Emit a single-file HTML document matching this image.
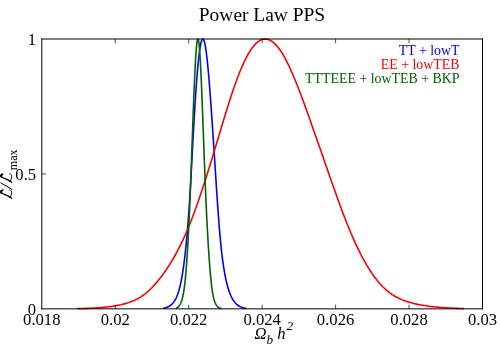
<!DOCTYPE html>
<html><head><meta charset="utf-8">
<style>
html,body{margin:0;padding:0;background:#fff;}
svg{display:block;will-change:transform;}
text{font-family:"Liberation Serif",serif;fill:#000;}
</style></head>
<body>
<svg width="500" height="350" viewBox="0 0 500 350">
<rect width="500" height="350" fill="#fff"/>
<g fill="none" stroke-width="1.6" stroke-linejoin="round" stroke-linecap="butt">
<path d="M163.03,308.24 L163.37,308.18 L163.72,308.12 L164.06,308.05 L164.42,307.98 L164.77,307.90 L165.12,307.81 L165.48,307.71 L165.84,307.61 L166.20,307.50 L166.57,307.38 L166.93,307.25 L167.29,307.11 L167.66,306.96 L168.03,306.80 L168.40,306.62 L168.76,306.44 L169.13,306.23 L169.50,306.02 L169.87,305.78 L170.24,305.53 L170.60,305.27 L170.97,304.98 L171.34,304.68 L171.70,304.35 L172.06,304.00 L172.43,303.63 L172.79,303.23 L173.15,302.80 L173.51,302.35 L173.87,301.87 L174.22,301.36 L174.58,300.82 L174.93,300.24 L175.28,299.63 L175.63,298.99 L175.98,298.30 L176.33,297.57 L176.67,296.81 L177.01,296.00 L177.35,295.14 L177.69,294.24 L178.02,293.29 L178.36,292.29 L178.69,291.23 L179.01,290.13 L179.34,288.96 L179.66,287.74 L179.98,286.46 L180.30,285.12 L180.62,283.71 L180.93,282.24 L181.24,280.70 L181.55,279.10 L181.86,277.42 L182.16,275.68 L182.47,273.86 L182.77,271.96 L183.07,269.99 L183.37,267.95 L183.67,265.82 L183.96,263.62 L184.26,261.33 L184.55,258.97 L184.84,256.52 L185.13,253.99 L185.42,251.38 L185.71,248.69 L186.00,245.91 L186.28,243.05 L186.56,240.10 L186.84,237.08 L187.12,233.97 L187.39,230.78 L187.66,227.52 L187.93,224.17 L188.20,220.75 L188.46,217.25 L188.72,213.68 L188.97,210.04 L189.23,206.33 L189.48,202.55 L189.72,198.71 L189.96,194.81 L190.20,190.85 L190.44,186.84 L190.67,182.79 L190.90,178.68 L191.13,174.53 L191.36,170.35 L191.59,166.14 L191.81,161.90 L192.04,157.63 L192.27,153.35 L192.49,149.06 L192.72,144.77 L192.95,140.47 L193.18,136.18 L193.42,131.91 L193.65,127.65 L193.89,123.42 L194.13,119.22 L194.37,115.06 L194.62,110.94 L194.87,106.88 L195.12,102.88 L195.38,98.93 L195.63,95.07 L195.89,91.28 L196.16,87.57 L196.42,83.96 L196.69,80.45 L196.96,77.04 L197.23,73.74 L197.50,70.56 L197.77,67.50 L198.04,64.57 L198.32,61.78 L198.60,59.13 L198.87,56.62 L199.15,54.26 L199.43,52.06 L199.71,50.02 L199.99,48.14 L200.27,46.43 L200.55,44.89 L200.83,43.52 L201.11,42.33 L201.39,41.31 L201.67,40.48 L201.95,39.84 L202.24,39.37 L202.52,39.09 L202.80,39.00 L203.09,39.09 L203.37,39.37 L203.66,39.84 L203.94,40.48 L204.23,41.31 L204.52,42.33 L204.80,43.52 L205.09,44.89 L205.38,46.43 L205.66,48.14 L205.95,50.02 L206.23,52.06 L206.52,54.26 L206.81,56.62 L207.09,59.13 L207.38,61.78 L207.66,64.57 L207.95,67.50 L208.24,70.56 L208.52,73.74 L208.81,77.04 L209.09,80.45 L209.38,83.96 L209.67,87.57 L209.95,91.28 L210.24,95.07 L210.52,98.93 L210.81,102.88 L211.10,106.88 L211.38,110.94 L211.67,115.06 L211.95,119.22 L212.24,123.42 L212.52,127.65 L212.81,131.91 L213.09,136.18 L213.37,140.47 L213.65,144.77 L213.94,149.06 L214.22,153.35 L214.49,157.63 L214.77,161.90 L215.05,166.14 L215.32,170.35 L215.60,174.53 L215.87,178.68 L216.14,182.79 L216.41,186.84 L216.67,190.85 L216.94,194.81 L217.20,198.71 L217.47,202.55 L217.73,206.33 L217.99,210.04 L218.26,213.68 L218.52,217.25 L218.78,220.75 L219.05,224.17 L219.32,227.52 L219.59,230.78 L219.86,233.97 L220.14,237.08 L220.42,240.10 L220.70,243.05 L220.99,245.91 L221.28,248.69 L221.58,251.38 L221.88,253.99 L222.18,256.52 L222.49,258.97 L222.81,261.33 L223.13,263.62 L223.45,265.82 L223.78,267.95 L224.11,269.99 L224.45,271.96 L224.79,273.86 L225.13,275.68 L225.48,277.42 L225.83,279.10 L226.18,280.70 L226.54,282.24 L226.90,283.71 L227.27,285.12 L227.63,286.46 L228.00,287.74 L228.37,288.96 L228.74,290.13 L229.12,291.23 L229.49,292.29 L229.87,293.29 L230.25,294.24 L230.62,295.14 L231.00,296.00 L231.38,296.81 L231.77,297.57 L232.15,298.30 L232.53,298.99 L232.91,299.63 L233.29,300.24 L233.68,300.82 L234.06,301.36 L234.44,301.87 L234.83,302.35 L235.21,302.80 L235.59,303.23 L235.98,303.63 L236.36,304.00 L236.74,304.35 L237.12,304.68 L237.50,304.98 L237.87,305.27 L238.25,305.53 L238.62,305.78 L238.99,306.02 L239.36,306.23 L239.73,306.44 L240.09,306.62 L240.46,306.80 L240.81,306.96 L241.17,307.11 L241.52,307.25 L241.87,307.38 L242.22,307.50 L242.57,307.61 L242.92,307.71 L243.26,307.81 L243.60,307.90 L243.94,307.98 L244.28,308.05 L244.62,308.12 L244.96,308.18 L245.30,308.24 L245.64,308.29 L245.97,308.34 L246.31,308.39" stroke="#0000ff"/>
<path d="M77.12,308.61 L78.42,308.59 L79.72,308.56 L81.01,308.53 L82.31,308.50 L83.61,308.47 L84.90,308.43 L86.20,308.39 L87.50,308.34 L88.80,308.29 L90.10,308.24 L91.40,308.18 L92.70,308.12 L94.00,308.05 L95.31,307.98 L96.62,307.90 L97.93,307.81 L99.24,307.71 L100.56,307.61 L101.89,307.50 L103.21,307.38 L104.55,307.25 L105.89,307.11 L107.24,306.96 L108.59,306.80 L109.96,306.62 L111.33,306.44 L112.71,306.23 L114.09,306.02 L115.48,305.78 L116.88,305.53 L118.27,305.27 L119.67,304.98 L121.08,304.68 L122.47,304.35 L123.87,304.00 L125.26,303.63 L126.64,303.23 L128.01,302.80 L129.38,302.35 L130.72,301.87 L132.06,301.36 L133.38,300.82 L134.68,300.24 L135.96,299.63 L137.23,298.99 L138.49,298.30 L139.73,297.57 L140.96,296.81 L142.17,296.00 L143.38,295.14 L144.58,294.24 L145.78,293.29 L146.98,292.29 L148.18,291.23 L149.38,290.13 L150.58,288.96 L151.80,287.74 L153.02,286.46 L154.26,285.12 L155.51,283.71 L156.78,282.24 L158.06,280.70 L159.35,279.10 L160.67,277.42 L161.99,275.68 L163.33,273.86 L164.69,271.96 L166.06,269.99 L167.43,267.95 L168.82,265.82 L170.21,263.62 L171.61,261.33 L173.02,258.97 L174.42,256.52 L175.83,253.99 L177.24,251.38 L178.64,248.69 L180.04,245.91 L181.44,243.05 L182.84,240.10 L184.22,237.08 L185.61,233.97 L186.99,230.78 L188.36,227.52 L189.72,224.17 L191.08,220.75 L192.44,217.25 L193.79,213.68 L195.14,210.04 L196.48,206.33 L197.81,202.55 L199.15,198.71 L200.48,194.81 L201.80,190.85 L203.13,186.84 L204.45,182.79 L205.77,178.68 L207.08,174.53 L208.39,170.35 L209.70,166.14 L211.00,161.90 L212.30,157.63 L213.60,153.35 L214.89,149.06 L216.18,144.77 L217.47,140.47 L218.75,136.18 L220.03,131.91 L221.31,127.65 L222.58,123.42 L223.85,119.22 L225.12,115.06 L226.39,110.94 L227.66,106.88 L228.93,102.88 L230.19,98.93 L231.46,95.07 L232.73,91.28 L234.00,87.57 L235.27,83.96 L236.55,80.45 L237.82,77.04 L239.10,73.74 L240.38,70.56 L241.66,67.50 L242.95,64.57 L244.23,61.78 L245.52,59.13 L246.81,56.62 L248.11,54.26 L249.40,52.06 L250.70,50.02 L251.99,48.14 L253.29,46.43 L254.59,44.89 L255.89,43.52 L257.19,42.33 L258.49,41.31 L259.79,40.48 L261.09,39.84 L262.40,39.37 L263.70,39.09 L265.00,39.00 L266.37,39.09 L267.73,39.37 L269.10,39.84 L270.47,40.48 L271.84,41.31 L273.20,42.33 L274.57,43.52 L275.94,44.89 L277.31,46.43 L278.68,48.14 L280.06,50.02 L281.43,52.06 L282.80,54.26 L284.18,56.62 L285.56,59.13 L286.94,61.78 L288.32,64.57 L289.71,67.50 L291.10,70.56 L292.50,73.74 L293.90,77.04 L295.31,80.45 L296.72,83.96 L298.14,87.57 L299.56,91.28 L301.00,95.07 L302.44,98.93 L303.89,102.88 L305.35,106.88 L306.82,110.94 L308.29,115.06 L309.78,119.22 L311.26,123.42 L312.75,127.65 L314.25,131.91 L315.75,136.18 L317.24,140.47 L318.74,144.77 L320.24,149.06 L321.73,153.35 L323.22,157.63 L324.70,161.90 L326.17,166.14 L327.64,170.35 L329.10,174.53 L330.54,178.68 L331.98,182.79 L333.42,186.84 L334.84,190.85 L336.25,194.81 L337.65,198.71 L339.05,202.55 L340.43,206.33 L341.81,210.04 L343.19,213.68 L344.55,217.25 L345.92,220.75 L347.27,224.17 L348.62,227.52 L349.97,230.78 L351.32,233.97 L352.66,237.08 L353.99,240.10 L355.33,243.05 L356.66,245.91 L357.99,248.69 L359.31,251.38 L360.63,253.99 L361.95,256.52 L363.26,258.97 L364.57,261.33 L365.87,263.62 L367.17,265.82 L368.47,267.95 L369.76,269.99 L371.05,271.96 L372.33,273.86 L373.61,275.68 L374.89,277.42 L376.17,279.10 L377.44,280.70 L378.72,282.24 L379.99,283.71 L381.27,285.12 L382.56,286.46 L383.85,287.74 L385.14,288.96 L386.44,290.13 L387.76,291.23 L389.08,292.29 L390.42,293.29 L391.77,294.24 L393.14,295.14 L394.53,296.00 L395.94,296.81 L397.37,297.57 L398.82,298.30 L400.28,298.99 L401.77,299.63 L403.29,300.24 L404.82,300.82 L406.37,301.36 L407.94,301.87 L409.53,302.35 L411.13,302.80 L412.74,303.23 L414.36,303.63 L415.99,304.00 L417.63,304.35 L419.26,304.68 L420.89,304.98 L422.52,305.27 L424.14,305.53 L425.75,305.78 L427.35,306.02 L428.94,306.23 L430.51,306.44 L432.07,306.62 L433.62,306.80 L435.16,306.96 L436.68,307.11 L438.19,307.25 L439.68,307.38 L441.17,307.50 L442.65,307.61 L444.11,307.71 L445.57,307.81 L447.02,307.90 L448.47,307.98 L449.91,308.05 L451.34,308.12 L452.78,308.18 L454.21,308.24 L455.64,308.29 L457.06,308.34 L458.49,308.39 L459.91,308.43 L461.34,308.47 L462.76,308.50 L464.18,308.53" stroke="#ff0000"/>
<path d="M176.01,308.18 L176.18,308.12 L176.36,308.05 L176.53,307.98 L176.71,307.90 L176.89,307.81 L177.06,307.71 L177.24,307.61 L177.41,307.50 L177.59,307.38 L177.77,307.25 L177.94,307.11 L178.12,306.96 L178.30,306.80 L178.48,306.62 L178.65,306.44 L178.83,306.23 L179.01,306.02 L179.20,305.78 L179.38,305.53 L179.56,305.27 L179.74,304.98 L179.93,304.68 L180.12,304.35 L180.30,304.00 L180.49,303.63 L180.68,303.23 L180.87,302.80 L181.05,302.35 L181.24,301.87 L181.43,301.36 L181.62,300.82 L181.81,300.24 L181.99,299.63 L182.18,298.99 L182.36,298.30 L182.54,297.57 L182.72,296.81 L182.90,296.00 L183.08,295.14 L183.26,294.24 L183.43,293.29 L183.61,292.29 L183.78,291.23 L183.95,290.13 L184.12,288.96 L184.29,287.74 L184.46,286.46 L184.63,285.12 L184.79,283.71 L184.96,282.24 L185.13,280.70 L185.29,279.10 L185.46,277.42 L185.62,275.68 L185.79,273.86 L185.95,271.96 L186.11,269.99 L186.28,267.95 L186.44,265.82 L186.60,263.62 L186.77,261.33 L186.93,258.97 L187.09,256.52 L187.26,253.99 L187.42,251.38 L187.58,248.69 L187.75,245.91 L187.91,243.05 L188.07,240.10 L188.24,237.08 L188.40,233.97 L188.56,230.78 L188.73,227.52 L188.89,224.17 L189.05,220.75 L189.21,217.25 L189.37,213.68 L189.54,210.04 L189.70,206.33 L189.86,202.55 L190.02,198.71 L190.18,194.81 L190.34,190.85 L190.50,186.84 L190.65,182.79 L190.81,178.68 L190.97,174.53 L191.13,170.35 L191.28,166.14 L191.44,161.90 L191.59,157.63 L191.75,153.35 L191.91,149.06 L192.06,144.77 L192.21,140.47 L192.37,136.18 L192.52,131.91 L192.68,127.65 L192.83,123.42 L192.99,119.22 L193.14,115.06 L193.29,110.94 L193.45,106.88 L193.60,102.88 L193.75,98.93 L193.91,95.07 L194.06,91.28 L194.21,87.57 L194.37,83.96 L194.52,80.45 L194.68,77.04 L194.83,73.74 L194.98,70.56 L195.14,67.50 L195.29,64.57 L195.44,61.78 L195.60,59.13 L195.75,56.62 L195.90,54.26 L196.06,52.06 L196.21,50.02 L196.36,48.14 L196.52,46.43 L196.67,44.89 L196.83,43.52 L196.98,42.33 L197.13,41.31 L197.29,40.48 L197.44,39.84 L197.59,39.37 L197.75,39.09 L197.90,39.00 L198.05,39.09 L198.21,39.37 L198.36,39.84 L198.51,40.48 L198.67,41.31 L198.82,42.33 L198.97,43.52 L199.13,44.89 L199.28,46.43 L199.44,48.14 L199.59,50.02 L199.74,52.06 L199.90,54.26 L200.05,56.62 L200.20,59.13 L200.36,61.78 L200.51,64.57 L200.66,67.50 L200.82,70.56 L200.97,73.74 L201.12,77.04 L201.28,80.45 L201.43,83.96 L201.59,87.57 L201.74,91.28 L201.89,95.07 L202.05,98.93 L202.20,102.88 L202.35,106.88 L202.51,110.94 L202.66,115.06 L202.82,119.22 L202.97,123.42 L203.13,127.65 L203.28,131.91 L203.44,136.18 L203.59,140.47 L203.75,144.77 L203.91,149.06 L204.06,153.35 L204.22,157.63 L204.38,161.90 L204.55,166.14 L204.71,170.35 L204.87,174.53 L205.04,178.68 L205.20,182.79 L205.37,186.84 L205.54,190.85 L205.71,194.81 L205.88,198.71 L206.05,202.55 L206.23,206.33 L206.40,210.04 L206.58,213.68 L206.75,217.25 L206.93,220.75 L207.11,224.17 L207.28,227.52 L207.46,230.78 L207.63,233.97 L207.81,237.08 L207.99,240.10 L208.16,243.05 L208.33,245.91 L208.51,248.69 L208.68,251.38 L208.85,253.99 L209.02,256.52 L209.19,258.97 L209.36,261.33 L209.53,263.62 L209.70,265.82 L209.87,267.95 L210.03,269.99 L210.20,271.96 L210.37,273.86 L210.53,275.68 L210.70,277.42 L210.86,279.10 L211.03,280.70 L211.19,282.24 L211.36,283.71 L211.53,285.12 L211.69,286.46 L211.86,287.74 L212.03,288.96 L212.19,290.13 L212.36,291.23 L212.53,292.29 L212.70,293.29 L212.87,294.24 L213.04,295.14 L213.21,296.00 L213.38,296.81 L213.56,297.57 L213.73,298.30 L213.91,298.99 L214.08,299.63 L214.26,300.24 L214.44,300.82 L214.62,301.36 L214.80,301.87 L214.98,302.35 L215.17,302.80 L215.35,303.23 L215.54,303.63 L215.72,304.00 L215.91,304.35 L216.09,304.68 L216.28,304.98 L216.46,305.27 L216.65,305.53 L216.83,305.78 L217.02,306.02 L217.20,306.23 L217.39,306.44 L217.57,306.62 L217.75,306.80 L217.94,306.96 L218.12,307.11 L218.30,307.25 L218.48,307.38 L218.66,307.50 L218.84,307.61 L219.02,307.71 L219.20,307.81 L219.38,307.90 L219.56,307.98 L219.74,308.05 L219.92,308.12 L220.10,308.18 L220.28,308.24 L220.46,308.29 L220.64,308.34 L220.82,308.39 L221.00,308.43 L221.18,308.47 L221.37,308.50" stroke="#006400"/>
</g>
<g stroke="#000" stroke-width="1" fill="none">
<line x1="41.8" y1="38.5" x2="41.8" y2="309.35"/>
<line x1="482.5" y1="38.5" x2="482.5" y2="309.35"/>
<line x1="41.3" y1="39.0" x2="483.0" y2="39.0"/>
<line x1="41.3" y1="308.85" x2="483.0" y2="308.85"/>
</g>
<g stroke="#000" stroke-width="0.7"><line x1="115.25" y1="308.85" x2="115.25" y2="304.65000000000003"/><line x1="115.25" y1="39.0" x2="115.25" y2="43.2"/><line x1="188.70" y1="308.85" x2="188.70" y2="304.65000000000003"/><line x1="188.70" y1="39.0" x2="188.70" y2="43.2"/><line x1="262.15" y1="308.85" x2="262.15" y2="304.65000000000003"/><line x1="262.15" y1="39.0" x2="262.15" y2="43.2"/><line x1="335.60" y1="308.85" x2="335.60" y2="304.65000000000003"/><line x1="335.60" y1="39.0" x2="335.60" y2="43.2"/><line x1="409.05" y1="308.85" x2="409.05" y2="304.65000000000003"/><line x1="409.05" y1="39.0" x2="409.05" y2="43.2"/><line x1="41.8" y1="173.93" x2="46.0" y2="173.93"/></g>
<g font-size="16.67"><text x="41.80" y="324.6" text-anchor="middle">0.018</text><text x="115.25" y="324.6" text-anchor="middle">0.02</text><text x="188.70" y="324.6" text-anchor="middle">0.022</text><text x="262.15" y="324.6" text-anchor="middle">0.024</text><text x="335.60" y="324.6" text-anchor="middle">0.026</text><text x="409.05" y="324.6" text-anchor="middle">0.028</text><text x="482.50" y="324.6" text-anchor="middle">0.03</text><text x="36.2" y="314.75" text-anchor="end">0</text><text x="36.2" y="179.83" text-anchor="end">0.5</text><text x="36.2" y="44.90" text-anchor="end">1</text></g>
<text x="262.0" y="21" font-size="19.44" text-anchor="middle">Power Law PPS</text>
<g font-size="13.89" text-anchor="end">
<text x="459.5" y="54.6" style="fill:#0000ff">TT + lowT</text>
<text x="459.5" y="68.6" style="fill:#ff0000">EE + lowTEB</text>
<text x="459.5" y="82.5" style="fill:#006400">TTTEEE + lowTEB + BKP</text>
</g>
<g font-size="16.67" font-style="italic">
<text x="254.5" y="339"><tspan>Ω</tspan><tspan font-size="13.3" dy="5">b</tspan><tspan dy="-5" dx="4.1">h</tspan><tspan font-size="13.3" dy="-9" dx="0.9">2</tspan></text>
</g>
<g transform="translate(12,198.5) rotate(-90)">
<g fill="none" stroke="#000" stroke-linecap="round" stroke-linejoin="round">
<path d="M8.4,-9.3 C8.4,-11.2 6.4,-11.7 5.5,-10.8 C4.3,-8.6 3.2,-4.4 1.3,-1.9 C0.9,-1.2 0.5,-0.5 0.1,-0.4" stroke-width="1.35"/>
<path d="M1.3,-1.9 C3.0,-0.5 5.4,-0.2 7.2,-0.5 C8.0,-0.7 8.4,-1.4 8.6,-2.4" stroke-width="0.95"/>
<path d="M8.2,-9.5 C8.1,-10.7 6.9,-11.2 6.1,-10.7" stroke-width="1.8"/>
</g>
<line x1="9.0" y1="0.3" x2="15.8" y2="-11.5" stroke="#000" stroke-width="1.0"/>
<g transform="translate(16,0)" fill="none" stroke="#000" stroke-linecap="round" stroke-linejoin="round">
<path d="M8.4,-9.3 C8.4,-11.2 6.4,-11.7 5.5,-10.8 C4.3,-8.6 3.2,-4.4 1.3,-1.9 C0.9,-1.2 0.5,-0.5 0.1,-0.4" stroke-width="1.35"/>
<path d="M1.3,-1.9 C3.0,-0.5 5.4,-0.2 7.2,-0.5 C8.0,-0.7 8.4,-1.4 8.6,-2.4" stroke-width="0.95"/>
<path d="M8.2,-9.5 C8.1,-10.7 6.9,-11.2 6.1,-10.7" stroke-width="1.8"/>
</g>
<text x="28.3" y="4.8" font-size="12">max</text>
</g>
</svg>
</body></html>
